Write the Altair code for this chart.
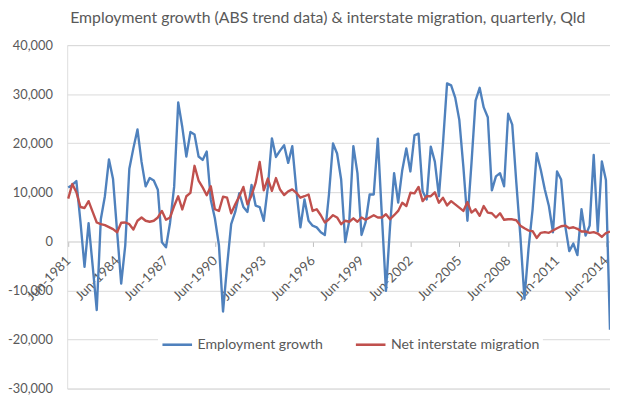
import json
import altair as alt
import pandas as pd

# ---- data (quarterly, Jun-1981 onwards) ----
series_names = ["Employment growth", "Net interstate migration"]
series_colors = ["#4F81BD", "#C0504D"]

employment = [
    11000, 11500, 12300, 4000, -5200, 3700, -5000, -14000, 4500, 9200,
    16700, 12700, 2000, -8600, -800, 14800, 19000, 22800, 16200, 11200,
    12900, 12400, 10500, -200, -1200, 3800, 11100, 28300, 23300, 17300,
    22300, 21800, 17300, 16600, 18300, 8500, 4700, -800, -14300, -5000,
    3500, 6000, 9800, 7000, 6000, 11500, 7300, 7000, 4200, 11000,
    21000, 17200, 18500, 19600, 16000, 19400, 10500, 2850, 8550, 4200,
    3200, 2850, 1850, 1300, 9500, 19950, 17900, 12600, -150, 4200,
    19400, 13900, 1300, 3900, 9550, 9550, 20950, 5200, -10100, 3000,
    13900, 7900, 14500, 18950, 14250, 21600, 21950, 10200, 8550, 19300,
    16250, 9200, 20000, 32200, 31800, 29300, 24800, 15250, 4200, 16000,
    28670, 31300, 27300, 25300, 10400, 13240, 13900, 11230, 26000, 23800,
    12000, 1000, -11700, -1500, 6540, 17950, 14600, 10560, 7200, 1850,
    14250, 12600, 3200, -2000, -450, -2800, 6540, 1170, 3200, 17600,
    2000, 16300, 12500, -18000,
]

migration = [
    8700, 11700, 10000, 7000, 6800, 8200, 6000, 3850, 3500, 3300,
    2900, 2500, 1850, 3800, 3850, 3500, 2400, 4200, 4870, 4200,
    4000, 4200, 4870, 6200, 4400, 4870, 7200, 9200, 6500, 9200,
    9900, 15400, 12400, 11000, 9400, 11230, 6540, 6200, 9100, 8900,
    5730, 7540, 9200, 11100, 7540, 9350, 11900, 16200, 10400, 12800,
    10300, 12900, 10560, 9450, 10200, 10600, 9900, 8900, 9200, 9550,
    6200, 6540, 5330, 3850, 4500, 5330, 4870, 3500, 4200, 4000,
    4700, 4000, 4870, 4400, 4870, 5330, 4870, 4870, 5530, 4500,
    5330, 6200, 7870, 7200, 9900, 9780, 11100, 8200, 9200, 9200,
    10000, 7870, 8900, 7330, 8200, 7530, 6870, 6200, 8000, 5870,
    6540, 5200, 7200, 5870, 5730, 4870, 5730, 4400, 4500, 4500,
    4300, 3200, 2680, 2200, 2100, 700, 1740, 1870, 1740, 2200,
    2680, 3080, 3220, 2680, 2880, 2550, 2010, 2010, 1740, 1870,
    1600, 900, 1700, 2000,
]

tick_labels = ["Jun-1981", "Jun-1984", "Jun-1987", "Jun-1990", "Jun-1993",
               "Jun-1996", "Jun-1999", "Jun-2002", "Jun-2005", "Jun-2008",
               "Jun-2011", "Jun-2014"]
tick_positions = [12 * k for k in range(len(tick_labels))]
y_ticks = [-30000, -20000, -10000, 0, 10000, 20000, 30000, 40000]

title_text = "Employment growth (ABS trend data) & interstate migration, quarterly, Qld"

rows = []
for name, vals in zip(series_names, [employment, migration]):
    for i, v in enumerate(vals):
        rows.append({"idx": i, "series": name, "value": v})
df = pd.DataFrame(rows)

FONT = "Lato"
TXT = "#595959"
GRID = "#D9D9D9"

x_label_expr = json.dumps(tick_labels) + "[round(datum.value / 12)]"
y_label_expr = "(datum.value < 0 ? '-' : '') + format(abs(datum.value), ',')"

chart = alt.Chart(df).mark_line(strokeWidth=2.4, strokeJoin="round").encode(
    x=alt.X(
        "idx:Q",
        scale=alt.Scale(domain=[-0.25, 133], nice=False, zero=False),
        axis=alt.Axis(
            values=tick_positions, labelExpr=x_label_expr, title=None,
            labelAngle=-45, labelAlign="right", labelBaseline="middle",
            offset=-149, grid=False, tickSize=5, tickColor="#BFBFBF",
            domainColor=GRID, labelPadding=12, labelFont=FONT,
            labelFontSize=13.5, labelColor=TXT, labelOverlap=False,
            labelFlush=False,
        ),
    ),
    y=alt.Y(
        "value:Q",
        scale=alt.Scale(domain=[-30000, 40000], nice=False),
        axis=alt.Axis(
            values=y_ticks, labelExpr=y_label_expr, title=None, grid=True,
            gridColor=GRID, domain=False, ticks=False, tickSize=0,
            labelPadding=15, labelFont=FONT, labelFontSize=13,
            labelColor=TXT,
        ),
    ),
    color=alt.Color(
        "series:N",
        scale=alt.Scale(domain=series_names, range=series_colors),
        legend=alt.Legend(
            orient="none", legendX=92, legendY=284, direction="horizontal",
            title=None, symbolType="stroke", symbolSize=900,
            symbolStrokeWidth=2.6, labelFont=FONT, labelFontSize=14.3,
            labelColor=TXT, fillColor="white", padding=3,
            columnPadding=27, labelOffset=4,
        ),
    ),
).properties(
    width=550,
    height=348,
    title=alt.TitleParams(
        text=title_text, font=FONT, fontSize=16, fontWeight="normal",
        color=TXT, anchor="middle", frame="group", dx=-11, offset=13,
    ),
    autosize=alt.AutoSizeParams(type="none"),
    padding={"left": 60, "top": 35, "right": 0, "bottom": 9},
).configure_view(stroke=None).configure(background="white")

chart.save("out.html", embed_options={"renderer": "svg", "actions": False})
